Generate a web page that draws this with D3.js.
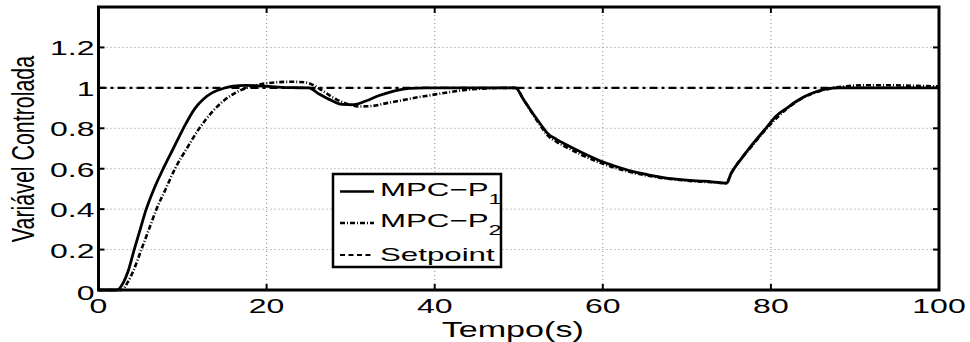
<!DOCTYPE html>
<html><head><meta charset="utf-8">
<script src="https://cdn.jsdelivr.net/npm/d3@7"></script>
<style>html,body{margin:0;padding:0;background:#fff;}svg{display:block;}</style>
</head><body><svg id="c" width="970" height="342"></svg>
<script>
// ---- data ----
const xTicks = [0, 20, 40, 60, 80, 100];
const yTicks = [0, 0.2, 0.4, 0.6, 0.8, 1, 1.2];
const yTickLabels = ["0", "0.2", "0.4", "0.6", "0.8", "1", "1.2"];
const seriesNames = ["MPC\u2212P", "MPC\u2212P", "Setpoint"];
const seriesSubs = ["1", "2", ""];

const p1Time = [0, 2.2, 3.0, 3.5, 4.25, 5.0, 5.6, 6.6, 7.7, 8.9, 10.1, 11.5, 12.5, 13.5, 14.8, 16, 17.5, 19, 21, 23, 25,
  26.3, 27.8, 29, 30.4, 31.8, 33.4, 34.6, 35.8, 37, 38.9, 45, 49.6,
  50.6, 51.6, 52.6, 53.5, 54.5, 55.5, 57.5, 59.5, 61.5, 63.4, 65.4, 67.4, 69.4, 71.3, 73, 74.7,
  75.3, 76.4, 77.6, 79.4, 80.6, 81.9, 82.9, 83.9, 85.2, 86.6, 88, 94, 100];
const p1Value = [0, 0, 0.04, 0.09, 0.2, 0.305, 0.39, 0.5, 0.6, 0.7, 0.8, 0.9, 0.945, 0.975, 0.997, 1.008, 1.012, 1.01, 1.005, 1.001, 1.0,
  0.968, 0.936, 0.918, 0.917, 0.935, 0.962, 0.978, 0.99, 0.997, 1.0, 1.0, 1.0,
  0.94, 0.878, 0.82, 0.772, 0.745, 0.722, 0.68, 0.642, 0.612, 0.588, 0.57, 0.555, 0.546, 0.54, 0.535, 0.528,
  0.58, 0.645, 0.71, 0.8, 0.86, 0.9, 0.93, 0.955, 0.978, 0.995, 1.0, 1.0, 1.0];

const p2Time = [0, 2.75, 3.5, 4.2, 5.1, 6.0, 6.9, 8.0, 9.1, 10.5, 12.0, 13.5, 15, 17, 19, 21, 23, 24.5,
  25.5, 26.5, 28, 29.5, 31, 32.5, 34, 35.8, 37.8, 39.7, 41.5, 43, 44.5, 46.5, 49.6,
  50.6, 51.6, 52.6, 53.5, 54.5, 55.5, 57.5, 59.5, 61.5, 63.4, 65.4, 67.4, 69.4, 71.3, 73, 74.7,
  75.3, 77.6, 79.4, 81.9, 83.9, 85.9, 87.5, 89, 91, 94, 97, 100];
const p2Value = [0, 0, 0.04, 0.1, 0.2, 0.3, 0.4, 0.5, 0.6, 0.7, 0.8, 0.88, 0.94, 0.99, 1.015, 1.027, 1.03, 1.028,
  1.015, 0.99, 0.95, 0.922, 0.908, 0.91, 0.922, 0.936, 0.952, 0.965, 0.977, 0.986, 0.993, 0.998, 1.0,
  0.94, 0.875, 0.812, 0.762, 0.733, 0.71, 0.668, 0.632, 0.604, 0.582, 0.565, 0.552, 0.543, 0.537, 0.533, 0.528,
  0.578, 0.705, 0.795, 0.897, 0.953, 0.985, 1.0, 1.008, 1.013, 1.013, 1.01, 1.007];

const spTime = [0, 100];
const spValue = [1, 1];

// ---- layout ----
const L = 98.5, R = 939, T = 7, B = 290;
const x = d3.scaleLinear().domain([0, 100]).range([L, R]);
const y = d3.scaleLinear().domain([0, 1.4]).range([B, T]);
const svg = d3.select("#c");
const FONT = "'Liberation Sans', Arial, sans-serif";
const SX = 1.6;

// grid
const g = svg.append("g");
g.selectAll(".gx").data(xTicks.slice(1, -1)).join("line")
  .attr("x1", d => x(d)).attr("x2", d => x(d)).attr("y1", T).attr("y2", B)
  .attr("stroke", "#8a8a8a").attr("stroke-width", 1).attr("stroke-dasharray", "1,3");
g.selectAll(".gy").data(yTicks.slice(1)).join("line")
  .attr("x1", L).attr("x2", R).attr("y1", d => y(d)).attr("y2", d => y(d))
  .attr("stroke", "#8a8a8a").attr("stroke-width", 1).attr("stroke-dasharray", "1,3");

// lines
const line = d3.line().x(d => x(d[0])).y(d => y(d[1])).curve(d3.curveMonotoneX);
const sp = d3.zip(spTime, spValue), s1 = d3.zip(p1Time, p1Value), s2 = d3.zip(p2Time, p2Value);
svg.append("path").attr("d", line(sp)).attr("fill", "none").attr("stroke", "#000")
  .attr("stroke-width", 2.2).attr("stroke-dasharray", "8,4,3,4");
svg.append("path").attr("d", line(s2)).attr("fill", "none").attr("stroke", "#000")
  .attr("stroke-width", 2.6).attr("stroke-dasharray", "5,2,1,2");
svg.append("path").attr("d", line(s1)).attr("fill", "none").attr("stroke", "#000")
  .attr("stroke-width", 2.8).attr("stroke-linejoin", "round");

// ticks (inner, all four sides)
const tk = svg.append("g").attr("stroke", "#000").attr("stroke-width", 2);
xTicks.forEach(v => {
  tk.append("line").attr("x1", x(v)).attr("x2", x(v)).attr("y1", B).attr("y2", B - 6);
  tk.append("line").attr("x1", x(v)).attr("x2", x(v)).attr("y1", T).attr("y2", T + 6);
});
yTicks.forEach(v => {
  tk.append("line").attr("x1", L).attr("x2", L + 6).attr("y1", y(v)).attr("y2", y(v));
  tk.append("line").attr("x1", R).attr("x2", R - 6).attr("y1", y(v)).attr("y2", y(v));
});

// box
svg.append("rect").attr("x", L).attr("y", T).attr("width", R - L).attr("height", B - T)
  .attr("fill", "none").attr("stroke", "#000").attr("stroke-width", 3);

// tick labels
svg.selectAll(".xl").data(xTicks).join("text")
  .attr("transform", d => `translate(${x(d)},${313}) scale(${SX},1)`)
  .attr("text-anchor", "middle").attr("font-family", FONT).attr("font-size", 20)
  .text(d => d);
svg.selectAll(".yl").data(yTicks).join("text")
  .attr("transform", (d, i) => `translate(${L - 4},${y(d) + (d === 0 ? 10 : 8)}) scale(${SX},1)`)
  .attr("text-anchor", "end").attr("font-family", FONT).attr("font-size", 20)
  .text((d, i) => yTickLabels[i]);

// axis labels
svg.append("text").attr("transform", `translate(${(L + R) / 2 - 6},337) scale(1.55,1)`)
  .attr("text-anchor", "middle").attr("font-family", FONT).attr("font-size", 22).text("Tempo(s)");
svg.append("text").attr("transform", `translate(34,149) scale(1.47,1) rotate(-90)`)
  .attr("text-anchor", "middle").attr("font-family", FONT).attr("font-size", 21.4).text("Variável Controlada");

// legend
const lg = svg.append("g");
lg.append("rect").attr("x", 333).attr("y", 174).attr("width", 168).attr("height", 93)
  .attr("fill", "#fff").attr("stroke", "#000").attr("stroke-width", 2.5);
const rows = [191.5, 223, 255];
const dashes = [null, "5,2,1,2", "5,3.5"];
const widths = [2.4, 2.4, 2.2];
rows.forEach((ry, i) => {
  lg.append("line").attr("x1", 340).attr("x2", 374).attr("y1", ry).attr("y2", ry)
    .attr("stroke", "#000").attr("stroke-width", widths[i]).attr("stroke-dasharray", dashes[i]);
  const t = lg.append("text").attr("transform", `translate(380,${ry + 4 + (i === 2 ? 2 : 0)}) scale(1.68,1)`)
    .attr("font-family", FONT).attr("font-size", 18.6);
  t.append("tspan").text(seriesNames[i]);
  if (seriesSubs[i]) t.append("tspan").attr("font-size", 14).attr("dy", 8).text(seriesSubs[i]);
});
</script></body></html>
